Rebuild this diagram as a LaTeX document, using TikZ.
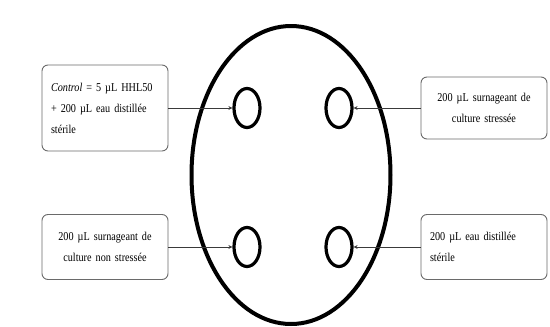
\documentclass[tikz,border=0pt]{standalone}
\usepackage{fontspec}
\setmainfont[FakeStretch=0.85]{Liberation Serif}
\usetikzlibrary{shapes.geometric,arrows.meta}
\definecolor{boxgray}{HTML}{6A6A6A}
\definecolor{linegray}{HTML}{3A3A3A}
\tikzset{
  infobox/.style={draw=boxgray, line width=0.9pt, rounded corners=6pt, inner xsep=9pt, inner ysep=0pt,
    text width=108pt, font=\fontsize{12}{21}\selectfont},
  well/.style={draw=black, ellipse, line width=3.2pt, minimum width=26pt, minimum height=39pt, inner sep=0pt},
  plate/.style={draw=black, ellipse, line width=4pt, minimum width=199pt, minimum height=298pt, inner sep=0pt},
  feed/.style={draw=linegray, line width=1pt, -{Stealth[length=4pt,width=4pt]}}
}
\begin{document}
\begin{tikzpicture}[x=1pt,y=-1pt]
\useasboundingbox (0,0) rectangle (550,327);
\node[plate] (plate) at (291,175) {};
\node[well] (w1) at (247,108) {};
\node[well] (w2) at (339,108) {};
\node[well] (w3) at (247,247) {};
\node[well] (w4) at (339,247) {};
\node[infobox, align=left, minimum height=86pt] (b1) at (105,108)
  {\textit{Control} = 5 µL HHL50\\+ 200 µL eau distillée\\stérile};
\node[infobox, align=center, minimum height=62pt] (b2) at (484,108)
  {200 µL surnageant de\\culture stressée};
\node[infobox, align=center, minimum height=65pt] (b3) at (105,247)
  {200 µL surnageant de\\culture non stressée};
\node[infobox, align=left, minimum height=65pt] (b4) at (484,247)
  {200 µL eau distillée\\stérile};
\draw[feed] (b1.east) -- (w1.west);
\draw[feed] (b2.west) -- (w2.east);
\draw[feed] (b3.east) -- (w3.west);
\draw[feed] (b4.west) -- (w4.east);
\end{tikzpicture}
\end{document}
